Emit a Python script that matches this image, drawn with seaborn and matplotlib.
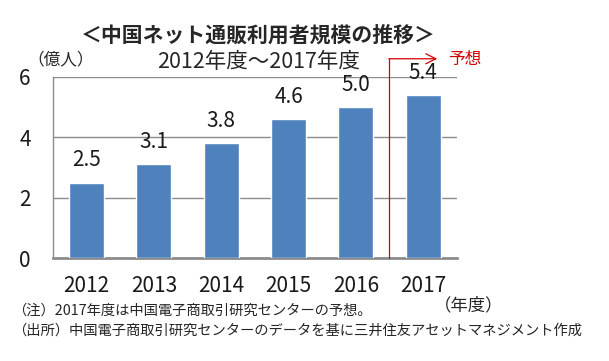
import matplotlib
matplotlib.use("Agg")
import matplotlib.pyplot as plt
import seaborn as sns
import pandas as pd

# データ
years = ["2012", "2013", "2014", "2015", "2016", "2017"]
users = [2.5, 3.1, 3.8, 4.6, 5.0, 5.4]
yticks = [0, 2, 4, 6]

title = "＜中国ネット通販利用者規模の推移＞"
subtitle = "2012年度～2017年度"
unit_label = "（億人）"
forecast_label = "予想"
xunit_label = "（年度）"
notes = ["（注）2017年度は中国電子商取引研究センターの予想。",
         "（出所）中国電子商取引研究センターのデータを基に三井住友アセットマネジメント作成"]

sns.set_style("white")
plt.rcParams['font.family'] = ['Noto Sans CJK JP', 'DejaVu Sans']

df = pd.DataFrame({"year": years, "users": users})

fig = plt.figure(figsize=(6.09, 3.61), dpi=100)
ax = fig.add_axes([0.087, 0.285, 0.663, 0.502])

sns.barplot(data=df, x="year", y="users", color="#4F81BD", width=0.52,
            saturation=1, ax=ax, zorder=3)

ax.set_xlim(-0.5, 5.5)
ax.set_ylim(0, 6)
ax.set_yticks(yticks)
ax.set_xlabel("")
ax.set_ylabel("")
ax.yaxis.grid(True, color="#8c8c8c", linewidth=1.0, zorder=0)
ax.set_axisbelow(True)

for s in ["top", "right"]:
    ax.spines[s].set_visible(False)
ax.spines["left"].set_color("#8c8c8c")
ax.spines["left"].set_linewidth(1.0)
ax.spines["bottom"].set_color("#8c8c8c")
ax.spines["bottom"].set_linewidth(2.0)
ax.tick_params(axis="both", length=0, labelsize=15, colors="#1a1a1a")
ax.tick_params(axis="y", pad=16)
ax.tick_params(axis="x", pad=12)

# 棒の上の数値
for i, v in enumerate(users):
    ax.annotate("{:.1f}".format(v), (i, v), xytext=(0, 8), textcoords="offset points",
                ha="center", va="bottom", fontsize=15, color="#1a1a1a")

# 予想の矢印
trans = ax.get_xaxis_transform()
ax.plot([4.49, 4.49], [0, 1.10], color="#d40000", linewidth=0.9, transform=trans,
        clip_on=False, zorder=4)
ax.annotate("", xy=(5.21, 1.10), xytext=(4.49, 1.10), xycoords=trans, textcoords=trans,
            arrowprops=dict(arrowstyle="->", color="#d40000", lw=0.9,
                            shrinkA=0, shrinkB=0, mutation_scale=18))

fig.text(0.735, 0.835, forecast_label, color="#d40000", fontsize=12, ha="left", va="center")
fig.text(0.425, 0.903, title, fontsize=15, fontweight="bold", ha="center", va="center")
fig.text(0.425, 0.828, subtitle, fontsize=15.5, ha="center", va="center")
fig.text(0.045, 0.834, unit_label, fontsize=12, ha="left", va="center")
fig.text(0.712, 0.155, xunit_label, fontsize=12.5, ha="left", va="center")
fig.text(0.02, 0.14, notes[0], fontsize=10.3, ha="left", va="center")
fig.text(0.02, 0.085, notes[1], fontsize=10.3, ha="left", va="center")

fig.savefig("out.png", dpi=100)
